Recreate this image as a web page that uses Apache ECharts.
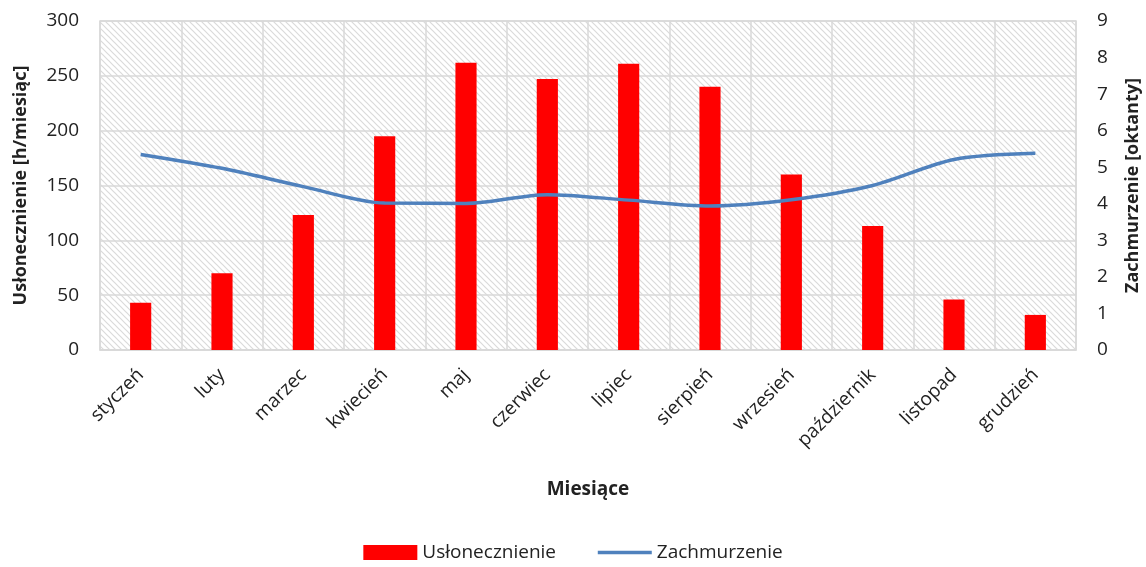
<!DOCTYPE html>
<html><head><meta charset="utf-8">
<script src="https://cdn.jsdelivr.net/npm/echarts@6/dist/echarts.min.js"></script>
<style>html,body{margin:0;padding:0;background:#fff}#c{width:1146px;height:567px}</style>
</head><body><div id="c"></div>
<script>
const months = ['styczeń','luty','marzec','kwiecień','maj','czerwiec','lipiec','sierpień','wrzesień','październik','listopad','grudzień'];
const sunshine = [43, 70, 123, 195, 262, 247, 261, 240, 160, 113, 46, 32];
const cloudiness = [5.35, 4.97, 4.47, 4.02, 4.01, 4.25, 4.1, 3.94, 4.11, 4.5, 5.21, 5.38];
const leftTicks = [0, 50, 100, 150, 200, 250, 300];
const rightTicks = [0, 1, 2, 3, 4, 5, 6, 7, 8, 9];

const pc = document.createElement('canvas');
pc.width = 6; pc.height = 6;
const g = pc.getContext('2d');
g.fillStyle = '#ffffff'; g.fillRect(0,0,6,6);
g.strokeStyle = '#dadada'; g.lineWidth = 1.2;
g.beginPath();
g.moveTo(-1,-1); g.lineTo(7,7);
g.moveTo(-4,2); g.lineTo(4,10);
g.moveTo(2,-4); g.lineTo(10,4);
g.stroke();

const font = '"Open Sans", "Noto Sans", sans-serif';
const fs = 19;
const chart = echarts.init(document.getElementById('c'), null, {renderer:'canvas'});
chart.setOption({
  animation: false,
  textStyle: {fontFamily: font},
  grid: {left: 100, right: 70, top: 21, bottom: 217, show: true, containLabel: false, outerBoundsMode: 'none',
    backgroundColor: {image: pc, repeat: 'repeat'}, borderColor: '#d9d9d9', borderWidth: 1.5},
  legend: {bottom: 0, left: 'center', itemGap: 40, itemWidth: 54, itemHeight: 15,
    textStyle: {fontSize: fs, color: '#222', fontFamily: font},
    data: [{name:'Usłonecznienie', icon:'rect'},
           {name:'Zachmurzenie', itemStyle: {opacity: 0}, lineStyle: {width: 3.5, color: '#4f81bd'}}]},
  xAxis: {type: 'category', data: months, boundaryGap: true,
    name: 'Miesiące', nameLocation: 'middle', nameGap: 130,
    nameTextStyle: {fontSize: fs, fontWeight: 'bold', color: '#222', fontFamily: font},
    axisLine: {show: true, lineStyle: {color: '#d9d9d9', width: 1.5}},
    axisTick: {show: false},
    axisLabel: {rotate: 45, fontSize: fs, color: '#222', margin: 22, interval: 0, fontFamily: font},
    splitLine: {show: true, interval: 0, lineStyle: {color: '#d9d9d9', width: 1.5}}},
  yAxis: [
    {type: 'value', min: 0, max: 300, interval: 50,
     name: 'Usłonecznienie [h/miesiąc]', nameLocation: 'middle', nameGap: 70, nameRotate: 90,
     nameTextStyle: {fontSize: 18, fontWeight: 'bold', color: '#222', fontFamily: font},
     axisLine: {show: false}, axisTick: {show: false},
     axisLabel: {fontSize: fs, color: '#222', margin: 21, fontFamily: font},
     splitLine: {show: true, lineStyle: {color: '#d9d9d9', width: 1.5}}},
    {type: 'value', min: 0, max: 9, interval: 1,
     name: 'Zachmurzenie [oktanty]', nameLocation: 'middle', nameGap: 48, nameRotate: 90,
     nameTextStyle: {fontSize: 18, fontWeight: 'bold', color: '#222', fontFamily: font},
     axisLine: {show: false}, axisTick: {show: false},
     axisLabel: {fontSize: fs, color: '#222', margin: 21, fontFamily: font},
     splitLine: {show: false}}
  ],
  series: [
    {name: 'Usłonecznienie', type: 'bar', data: sunshine, barWidth: '26%',
     itemStyle: {color: '#ff0000'}},
    {name: 'Zachmurzenie', type: 'line', yAxisIndex: 1, data: cloudiness, smooth: 0.3,
     symbol: 'none', lineStyle: {color: '#4f81bd', width: 3.5}, itemStyle: {color: '#4f81bd'}}
  ]
});
</script></body></html>
